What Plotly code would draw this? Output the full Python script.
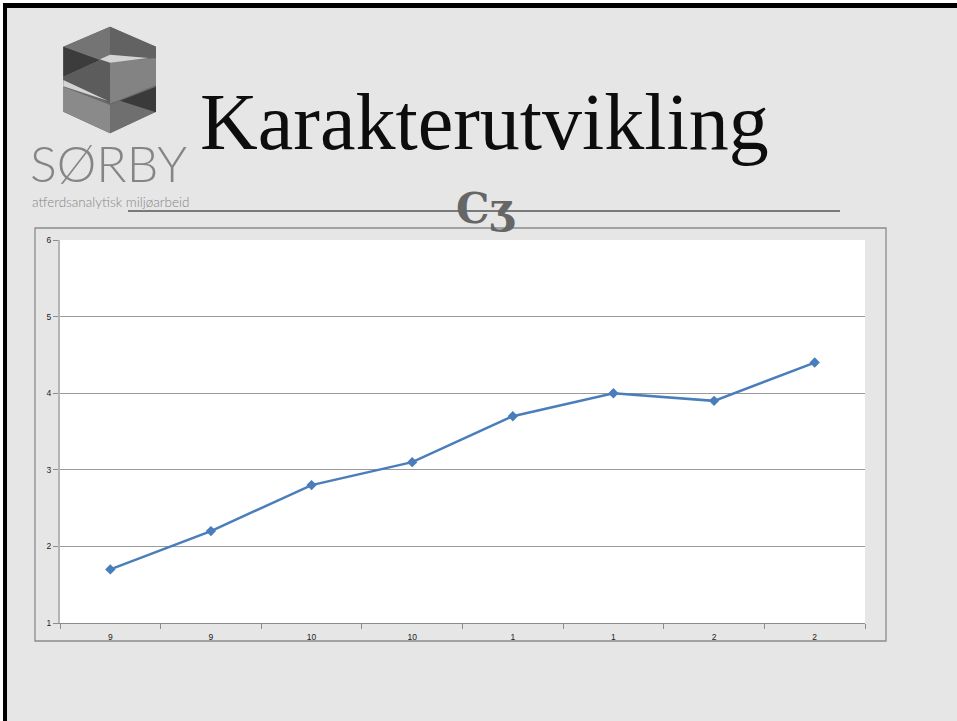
import plotly.graph_objects as go

# ---- data ----
categories = ["9", "9", "10", "10", "1", "1", "2", "2"]
grades = [1.7, 2.2, 2.8, 3.1, 3.7, 4.0, 3.9, 4.4]
y_ticks = [1, 2, 3, 4, 5, 6]
title_text = "Karakterutvikling"
logo_name = "SØRBY"
logo_sub = "atferdsanalytisk miljøarbeid"

W, H = 957, 721
ML, MR, MT, MB = 60, 92, 240, 98
PW, PH = W - ML - MR, H - MT - MB


def px(x):
    return (x - ML) / PW


def py(y):
    return (H - MB - y) / PH


def rect(x0, y0, x1, y1, **kw):
    return dict(type="rect", xref="paper", yref="paper",
                x0=px(x0), x1=px(x1), y0=py(y0), y1=py(y1), layer="below", **kw)


def poly(points, color):
    # points in logo-zoom coordinates -> pixel -> paper
    pts = [(50 + zx / 3, 15 + zy / 3) for zx, zy in points]
    d = "M " + " L ".join(f"{px(x):.5f},{py(y):.5f}" for x, y in pts) + " Z"
    return dict(type="path", xref="paper", yref="paper", path=d,
                fillcolor=color, line=dict(width=0), layer="below")


x_idx = list(range(len(categories)))

fig = go.Figure()
fig.add_trace(go.Scatter(
    x=x_idx, y=grades, mode="lines+markers",
    line=dict(color="#4a7ebb", width=2.5),
    marker=dict(symbol="diamond", size=8, color="#4a7ebb"),
    showlegend=False, hoverinfo="skip",
))

shapes = []
# white corner + black slide border
shapes.append(rect(0, 0, 3, H, fillcolor="#ffffff", line=dict(width=0)))
shapes.append(rect(0, 0, W, 3, fillcolor="#ffffff", line=dict(width=0)))
shapes.append(rect(3, 3, 7, H, fillcolor="#000000", line=dict(width=0)))
shapes.append(rect(3, 3, W, 8, fillcolor="#000000", line=dict(width=0)))

# logo (isometric S)
logo_polys = [
    ([(40, 95), (180, 35), (318, 95), (318, 290), (180, 355), (40, 290)], "#6b6b6b"),
    ([(40, 95), (180, 35), (180, 150), (40, 210)], "#747474"),
    ([(180, 35), (318, 95), (318, 128), (290, 130), (180, 118)], "#626262"),
    ([(40, 95), (150, 135), (40, 185)], "#3c3c3c"),
    ([(180, 140), (318, 130), (318, 210), (208, 255), (180, 265)], "#838383"),
    ([(40, 185), (150, 135), (180, 140), (180, 265), (40, 200)], "#5c5c5c"),
    ([(150, 133), (180, 119), (295, 129), (180, 143)], "#d4d4d4"),
    ([(40, 195), (175, 258), (40, 214)], "#d4d4d4"),
    ([(40, 215), (180, 270), (180, 355), (40, 290)], "#8a8a8a"),
    ([(180, 270), (318, 215), (318, 290), (180, 355)], "#6f6f6f"),
    ([(210, 257), (318, 215), (318, 292)], "#3a3a3a"),
]
for pts, col in logo_polys:
    shapes.append(poly(pts, col))

# decorative rule under title
shapes.append(dict(type="line", xref="paper", yref="paper",
                   x0=px(128), x1=px(840), y0=py(211), y1=py(211),
                   line=dict(color="#555555", width=1.5), layer="below"))
# chart frame
shapes.append(rect(35, 228, 886, 641, line=dict(color="#8c8c8c", width=1.3),
                   fillcolor="rgba(0,0,0,0)"))

annotations = [
    dict(text=title_text, x=px(484), y=py(122), xref="paper", yref="paper",
         xanchor="center", yanchor="middle", showarrow=False,
         font=dict(family="Liberation Serif", size=80, color="#0d0d0d")),
    dict(text=logo_name, x=px(28), y=py(163), xref="paper", yref="paper",
         xanchor="left", yanchor="middle", showarrow=False,
         font=dict(family="Lato", size=50, color="#858585", weight=300)),
    dict(text=logo_sub, x=px(30), y=py(202), xref="paper", yref="paper",
         xanchor="left", yanchor="middle", showarrow=False,
         font=dict(family="Lato", size=13.5, color="#858585", weight=300)),
    dict(text="<b>Cʒ</b>", x=px(485), y=py(208), xref="paper", yref="paper",
         xanchor="center", yanchor="middle", showarrow=False,
         font=dict(family="DejaVu Serif", size=42, color="#666666")),
]

fig.update_layout(
    width=W, height=H,
    margin=dict(l=ML, r=MR, t=MT, b=MB, pad=0),
    paper_bgcolor="#e6e6e6",
    plot_bgcolor="#ffffff",
    shapes=shapes,
    annotations=annotations,
    showlegend=False,
)

fig.update_xaxes(
    range=[-0.5, len(categories) - 0.5],
    tickvals=x_idx, ticktext=categories,
    ticks="outside", ticklen=6, tickcolor="rgba(0,0,0,0)",
    tickfont=dict(family="Liberation Sans", size=8.5, color="#222222"),
    showgrid=False, zeroline=False,
    showline=True, linecolor="#8c8c8c", linewidth=1,
    minor=dict(tickvals=[i - 0.5 for i in range(len(categories) + 1)],
               ticks="outside", ticklen=5, tickcolor="#8c8c8c", showgrid=False),
    fixedrange=True,
)
fig.update_yaxes(
    range=[1, 6], tickvals=y_ticks,
    ticks="outside", ticklen=5, tickcolor="#8c8c8c",
    tickfont=dict(family="Liberation Sans", size=8.5, color="#222222"),
    showgrid=True, gridcolor="#9a9a9a", gridwidth=1,
    zeroline=False,
    showline=True, linecolor="#b5b5b5", linewidth=2,
    fixedrange=True,
)

fig.write_html("out.html",
               config={"displayModeBar": False, "staticPlot": True},
               post_script="document.body.style.margin='0';document.body.style.overflow='hidden';")
